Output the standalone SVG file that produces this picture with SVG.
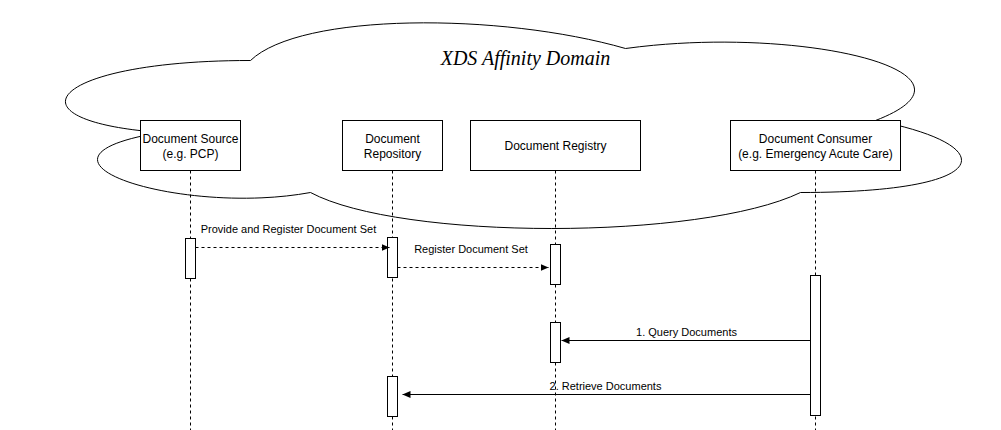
<svg xmlns="http://www.w3.org/2000/svg" width="1001" height="430" viewBox="0 0 1001 430">
<style>
.box{fill:#fff;stroke:#000;stroke-width:1}
.life{stroke:#000;stroke-width:1;stroke-dasharray:3 3;fill:none}
.lbl{font-family:"Liberation Sans",Arial,sans-serif;font-size:12px;fill:#000;text-anchor:middle}
.elbl{font-family:"Liberation Sans",Arial,sans-serif;font-size:11px;fill:#000;text-anchor:middle}
.msg{stroke:#000;stroke-width:1;fill:none}
.dash{stroke-dasharray:3 3}
</style>
<defs>
<marker id="ah" viewBox="0 0 8 7" refX="8" refY="3.5" markerWidth="8" markerHeight="7" markerUnits="userSpaceOnUse" orient="auto">
<path d="M0,0 L8,3.5 L0,7 Z" fill="#000"/>
</marker>
</defs>
<rect width="1001" height="430" fill="#fff"/>
<g transform="translate(0.5,0.5)">
<g id="cloud">
<path d="M250,60 C50,60 0,120 160,132 C0,158.4 180,216 310,192 C400,240 700,240 800,192 C1000,192 1000,144 875,120 C1000,72 800,24 625,48 C500,12 300,12 250,60 Z" fill="#fff" stroke="#000" stroke-width="1"/>
<text x="525" y="64" text-anchor="middle" font-family="'Liberation Serif','Times New Roman',serif" font-style="italic" font-size="20">XDS Affinity Domain</text>
</g>
<g id="lifelines">
<line class="life" x1="190" y1="170" x2="190" y2="430"/>
<line class="life" x1="392" y1="170" x2="392" y2="430"/>
<line class="life" x1="555" y1="170" x2="555" y2="430"/>
<line class="life" x1="815" y1="170" x2="815" y2="430"/>
</g>
<g id="source">
<rect class="box" x="140" y="120" width="100" height="50"/>
<text class="lbl" x="190" y="142">Document Source</text>
<text class="lbl" x="190" y="157">(e.g. PCP)</text>
</g>
<g id="repository">
<rect class="box" x="342" y="120" width="100" height="50"/>
<text class="lbl" x="392" y="142">Document</text>
<text class="lbl" x="392" y="157">Repository</text>
</g>
<g id="registry">
<rect class="box" x="470" y="120" width="170" height="50"/>
<text class="lbl" x="555" y="149">Document Registry</text>
</g>
<g id="consumer">
<rect class="box" x="730" y="120" width="170" height="50"/>
<text class="lbl" x="815" y="142">Document Consumer</text>
<text class="lbl" x="815" y="157">(e.g. Emergency Acute Care)</text>
</g>
<g id="activations">
<rect class="box" x="185" y="238" width="10" height="40"/>
<rect class="box" x="387" y="237" width="10" height="40"/>
<rect class="box" x="550" y="244" width="10" height="40"/>
<rect class="box" x="810" y="275" width="10" height="140"/>
<rect class="box" x="550" y="322" width="10" height="40"/>
<rect class="box" x="387" y="376" width="10" height="40"/>
</g>
<g id="connectors">
<line class="msg dash" x1="195" y1="247" x2="389" y2="247" marker-end="url(#ah)"/>
<text class="elbl" x="288" y="232">Provide and Register Document Set</text>
<line class="msg dash" x1="397" y1="267" x2="548" y2="267" marker-end="url(#ah)"/>
<text class="elbl" x="470.5" y="252">Register Document Set</text>
<line class="msg" x1="810" y1="340" x2="561" y2="340" marker-end="url(#ah)"/>
<text class="elbl" x="686" y="335">1. Query Documents</text>
<line class="msg" x1="810" y1="394" x2="402" y2="394" marker-end="url(#ah)"/>
<text class="elbl" x="605" y="389">2. Retrieve Documents</text>
</g>
</g>
</svg>
